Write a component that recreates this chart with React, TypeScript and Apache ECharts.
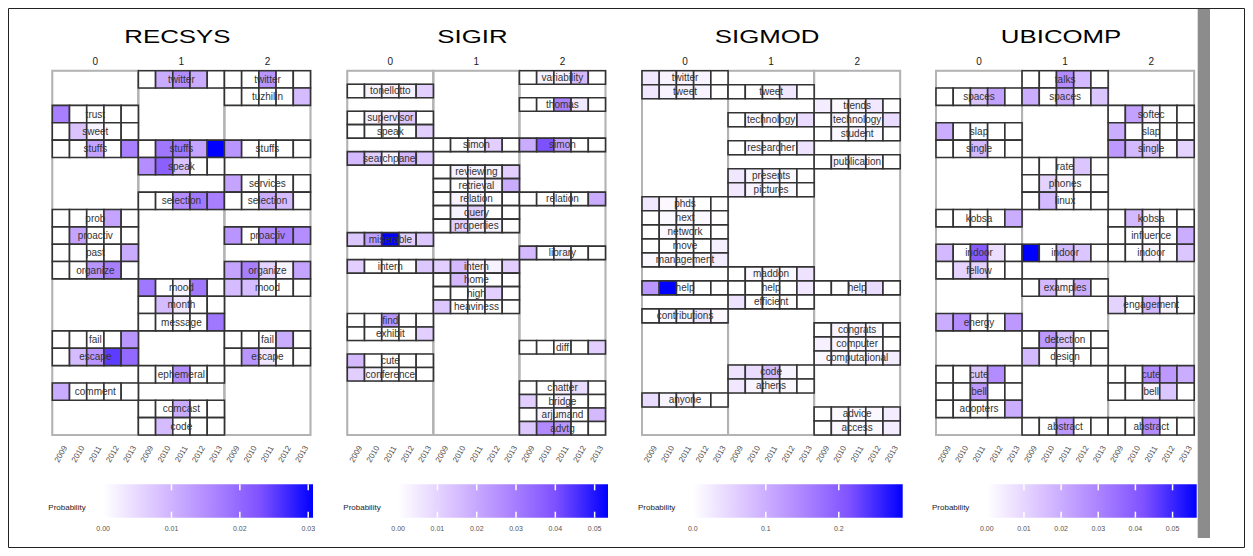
import React, { useEffect, useRef } from "react";
import * as echarts from "echarts";

const years = ["2009", "2010", "2011", "2012", "2013"];
const topics = ["0", "1", "2"];
const conferences = ["RECSYS", "SIGIR", "SIGMOD", "UBICOMP"];
const colorStops = ["#ffffff", "#dcc5ff", "#b28bff", "#7e51ff", "#0000ff"];

// ---------- RECSYS ----------
const recsysRows = ["twitter", "tuzhilin", "trust", "sweet", "stuffs", "speak", "services", "selection", "prob", "proactiv", "past", "organize", "mood", "month", "message", "fail", "escape", "ephemeral", "comment", "comcast", "code"];
const recsysT0: [string, number, number, number, number, number][] = [
  ["trust", 0.017, 0, 0, 0, 0],
  ["sweet", 0, 0.008, 0.0015, 0, 0],
  ["stuffs", 0, 0, 0.012, 0, 0.017],
  ["prob", 0, 0, 0, 0.012, 0],
  ["proactiv", 0, 0.012, 0, 0, 0],
  ["past", 0, 0, 0, 0, 0.011],
  ["organize", 0, 0, 0.014, 0.017, 0],
  ["fail", 0, 0, 0, 0, 0.014],
  ["escape", 0, 0.009, 0.014, 0.025, 0.02],
  ["comment", 0.011, 0, 0, 0, 0],
];
const recsysT1: [string, number, number, number, number, number][] = [
  ["twitter", 0, 0.011, 0.015, 0.011, 0],
  ["stuffs", 0, 0.018, 0.018, 0.012, 0.0307],
  ["speak", 0.015, 0.021, 0.008, 0, 0],
  ["selection", 0, 0, 0.015, 0.018, 0.017],
  ["mood", 0.018, 0, 0.0015, 0.018, 0],
  ["month", 0, 0.009, 0.003, 0, 0],
  ["message", 0, 0, 0, 0, 0.018],
  ["ephemeral", 0, 0, 0.015, 0, 0],
  ["comcast", 0, 0, 0.011, 0, 0],
  ["code", 0, 0.009, 0, 0, 0],
];
const recsysT2: [string, number, number, number, number, number][] = [
  ["twitter", 0, 0, 0.014, 0, 0],
  ["tuzhilin", 0, 0, 0, 0, 0.009],
  ["stuffs", 0.014, 0, 0, 0, 0],
  ["services", 0.012, 0, 0, 0, 0],
  ["selection", 0, 0, 0.011, 0.009, 0],
  ["proactiv", 0.014, 0, 0.015, 0.017, 0.015],
  ["organize", 0.012, 0.017, 0.006, 0.0015, 0.012],
  ["mood", 0.009, 0.009, 0, 0, 0],
  ["fail", 0, 0, 0, 0.011, 0],
  ["escape", 0, 0.014, 0.003, 0, 0],
];
const recsysMax = 0.0307;
const recsysTicks = [0, 0.01, 0.02, 0.03];

// ---------- SIGIR ----------
const sigirRows = ["variability", "tonellotto", "thomas", "supervisor", "speak", "simon", "searchpanel", "reviewing", "retrieval", "relation", "query", "properties", "miserable", "library", "intern", "home", "high", "heaviness", "find", "exhibit", "diff", "cute", "conference", "chatter", "bridge", "arjumand", "advtg"];
const sigirT0: [string, number, number, number, number, number][] = [
  ["tonellotto", 0, 0.003, 0.003, 0.003, 0.011],
  ["supervisor", 0, 0.003, 0.005, 0.013, 0],
  ["speak", 0, 0, 0, 0, 0.011],
  ["searchpanel", 0.016, 0.011, 0.003, 0.016, 0.013],
  ["miserable", 0.013, 0.022, 0.053, 0.011, 0.013],
  ["intern", 0.011, 0, 0, 0, 0.013],
  ["find", 0, 0, 0.024, 0, 0],
  ["exhibit", 0, 0, 0, 0, 0.011],
  ["cute", 0.016, 0, 0, 0, 0],
  ["conference", 0.011, 0.003, 0, 0, 0],
];
const sigirT1: [string, number, number, number, number, number][] = [
  ["simon", 0, 0, 0.003, 0.011, 0],
  ["reviewing", 0, 0.003, 0.003, 0.003, 0.011],
  ["retrieval", 0, 0, 0.003, 0.003, 0.019],
  ["relation", 0, 0.003, 0.003, 0, 0],
  ["query", 0, 0.003, 0.011, 0, 0],
  ["properties", 0, 0.011, 0.003, 0.003, 0],
  ["intern", 0.011, 0.016, 0.003, 0.003, 0.011],
  ["home", 0, 0.016, 0, 0, 0],
  ["high", 0, 0, 0, 0.011, 0],
  ["heaviness", 0.013, 0, 0, 0, 0],
];
const sigirT2: [string, number, number, number, number, number][] = [
  ["variability", 0, 0.003, 0.003, 0.016, 0],
  ["thomas", 0, 0, 0.029, 0.005, 0],
  ["simon", 0.019, 0.04, 0.022, 0, 0],
  ["relation", 0, 0, 0, 0, 0.019],
  ["library", 0.016, 0, 0.003, 0, 0],
  ["diff", 0, 0, 0, 0, 0.011],
  ["chatter", 0, 0, 0.003, 0.008, 0],
  ["bridge", 0.011, 0, 0.003, 0, 0],
  ["arjumand", 0, 0.003, 0.003, 0, 0.016],
  ["advtg", 0.013, 0.027, 0.024, 0, 0],
];
const sigirMax = 0.0534;
const sigirTicks = [0, 0.01, 0.02, 0.03, 0.04, 0.05];

// ---------- SIGMOD ----------
const sigmodRows = ["twitter", "tweet", "trends", "technology", "student", "researcher", "publication", "presents", "pictures", "phds", "next", "network", "move", "management", "maddon", "help", "efficient", "contributions", "congrats", "computer", "computational", "code", "athens", "anyone", "advice", "access"];
const sigmodT0: [string, number, number, number, number, number][] = [
  ["twitter", 0.029, 0.014, 0.014, 0.014, 0],
  ["tweet", 0.029, 0.014, 0.014, 0.014, 0],
  ["phds", 0.029, 0.009, 0.009, 0, 0],
  ["next", 0, 0.009, 0.009, 0.009, 0],
  ["network", 0, 0.009, 0.009, 0, 0],
  ["move", 0, 0, 0, 0, 0.02],
  ["management", 0.009, 0.009, 0.009, 0.009, 0.023],
  ["help", 0.13, 0.287, 0, 0, 0],
  ["contributions", 0, 0.009, 0.009, 0.029, 0.009],
  ["anyone", 0.043, 0.014, 0.014, 0, 0],
];
const sigmodT1: [string, number, number, number, number, number][] = [
  ["tweet", 0, 0, 0.009, 0.029, 0],
  ["technology", 0, 0.009, 0.009, 0.009, 0.043],
  ["researcher", 0, 0.009, 0.009, 0.009, 0.035],
  ["presents", 0.029, 0.014, 0.014, 0.009, 0],
  ["pictures", 0.029, 0.014, 0.009, 0.009, 0],
  ["maddon", 0, 0.009, 0.014, 0.009, 0.035],
  ["help", 0, 0, 0, 0, 0.029],
  ["efficient", 0.035, 0, 0, 0, 0],
  ["code", 0.035, 0.043, 0.086, 0.014, 0],
  ["athens", 0.029, 0.014, 0.014, 0.009, 0],
];
const sigmodT2: [string, number, number, number, number, number][] = [
  ["trends", 0.023, 0.009, 0.014, 0.029, 0],
  ["technology", 0, 0.014, 0.009, 0.009, 0.043],
  ["student", 0, 0.009, 0.014, 0.009, 0],
  ["publication", 0, 0.009, 0.014, 0.009, 0],
  ["help", 0, 0, 0.014, 0.043, 0],
  ["congrats", 0, 0.014, 0.014, 0.009, 0],
  ["computer", 0.017, 0.014, 0.009, 0.009, 0],
  ["computational", 0.009, 0.009, 0.009, 0.014, 0.023],
  ["advice", 0, 0.009, 0.009, 0.009, 0.023],
  ["access", 0, 0.009, 0.009, 0.009, 0.023],
];
const sigmodMax = 0.2876;
const sigmodTicks = [0, 0.1, 0.2];

// ---------- UBICOMP ----------
const ubicompRows = ["talks", "spaces", "softec", "slap", "single", "rate", "phones", "linux", "kobsa", "influence", "indoor", "fellow", "examples", "engagement", "energy", "detection", "design", "cute", "bell", "adopters", "abstract"];
const ubicompT0: [string, number, number, number, number, number][] = [
  ["spaces", 0, 0, 0.014, 0.023, 0],
  ["slap", 0.02, 0, 0, 0, 0],
  ["single", 0, 0, 0.017, 0, 0],
  ["kobsa", 0, 0, 0, 0, 0.02],
  ["indoor", 0.017, 0, 0.04, 0.008, 0],
  ["fellow", 0, 0.011, 0.011, 0, 0],
  ["energy", 0.02, 0.028, 0, 0, 0.025],
  ["cute", 0, 0, 0.014, 0.028, 0],
  ["bell", 0, 0, 0.025, 0, 0],
  ["adopters", 0, 0, 0, 0, 0.02],
];
const ubicompT1: [string, number, number, number, number, number][] = [
  ["talks", 0, 0, 0.028, 0.017, 0],
  ["spaces", 0.02, 0, 0.02, 0, 0.014],
  ["rate", 0, 0, 0, 0.014, 0],
  ["phones", 0, 0.011, 0.003, 0, 0],
  ["linux", 0, 0.017, 0, 0, 0],
  ["indoor", 0.0565, 0, 0.017, 0.014, 0],
  ["examples", 0, 0.017, 0.003, 0.02, 0],
  ["detection", 0, 0.025, 0.014, 0, 0],
  ["design", 0.017, 0, 0, 0, 0],
  ["abstract", 0, 0, 0.025, 0, 0],
];
const ubicompT2: [string, number, number, number, number, number][] = [
  ["softec", 0, 0.023, 0.003, 0, 0],
  ["slap", 0.02, 0, 0, 0, 0],
  ["single", 0.025, 0.017, 0.014, 0, 0.011],
  ["kobsa", 0, 0.017, 0.003, 0, 0],
  ["influence", 0, 0, 0, 0, 0.02],
  ["indoor", 0, 0, 0.003, 0, 0.014],
  ["engagement", 0.011, 0, 0.017, 0.003, 0],
  ["cute", 0, 0, 0.028, 0.025, 0.02],
  ["bell", 0, 0, 0.003, 0.014, 0],
  ["abstract", 0, 0, 0.028, 0, 0],
];
const ubicompMax = 0.0565;
const ubicompTicks = [0, 0.01, 0.02, 0.03, 0.04, 0.05];

const panels = [
  { name: conferences[0], rows: recsysRows, topicData: [recsysT0, recsysT1, recsysT2], max: recsysMax, ticks: recsysTicks, dec: 2 },
  { name: conferences[1], rows: sigirRows, topicData: [sigirT0, sigirT1, sigirT2], max: sigirMax, ticks: sigirTicks, dec: 2 },
  { name: conferences[2], rows: sigmodRows, topicData: [sigmodT0, sigmodT1, sigmodT2], max: sigmodMax, ticks: sigmodTicks, dec: 1 },
  { name: conferences[3], rows: ubicompRows, topicData: [ubicompT0, ubicompT1, ubicompT2], max: ubicompMax, ticks: ubicompTicks, dec: 2 },
];

const FONT = "'Liberation Sans', Arial, Helvetica, sans-serif";
const PANEL_LEFTS = [52.3, 347.3, 642, 936];
const PANEL_W = 258.2;
const PANEL_TOP = 70.7;
const PANEL_H = 364.3;
const LEG_TOP = 484.3;
const LEG_H = 33.4;

function buildOption() {
  const grid: any[] = [];
  const xAxis: any[] = [];
  const yAxis: any[] = [];
  const series: any[] = [];
  const visualMap: any[] = [];
  const graphic: any[] = [];

  graphic.push({
    type: "rect", silent: true, z: 0,
    shape: { x: 8.5, y: 8.5, width: 1236, height: 539 },
    style: { fill: "none", stroke: "#222", lineWidth: 1 },
  });
  graphic.push({
    type: "rect", silent: true, z: 0,
    shape: { x: 1197.7, y: 9, width: 12.3, height: 529 },
    style: { fill: "#8c8c8c" },
  });

  panels.forEach((p, i) => {
    const left = PANEL_LEFTS[i];
    const nRows = p.rows.length;
    const gi = grid.length;
    grid.push({ left, top: PANEL_TOP, width: PANEL_W, height: PANEL_H, containLabel: false });
    const xb = xAxis.length;
    xAxis.push({
      type: "category", gridIndex: gi, position: "bottom",
      data: topics.flatMap(() => years),
      axisLine: { show: false }, axisTick: { show: false }, splitLine: { show: false },
      axisLabel: { interval: 0, rotate: 60, fontSize: 8, color: "#4d4d4d", margin: 19, align: "center", verticalAlign: "middle", fontFamily: FONT },
    });
    xAxis.push({
      type: "category", gridIndex: gi, position: "top", data: topics,
      axisLine: { show: false }, axisTick: { show: false }, splitLine: { show: false },
      axisLabel: { interval: 0, fontSize: 10, color: "#1a1a1a", margin: 4, fontFamily: FONT },
    });
    const yi = yAxis.length;
    yAxis.push({ type: "value", gridIndex: gi, min: 0, max: nRows, inverse: true, show: false });

    // frames / empty blocks
    const frameData: number[][] = [];
    p.topicData.forEach((list, t) => {
      const used = new Set(list.map((e) => p.rows.indexOf(e[0])));
      let r = 0;
      while (r < nRows) {
        if (used.has(r)) { r++; continue; }
        const s = r;
        while (r < nRows && !used.has(r)) r++;
        frameData.push([t * 5, s, r, 0]);
      }
    });
    p.topicData.forEach((_, t) => frameData.push([t * 5, 0, nRows, 1]));
    series.push({
      type: "custom", xAxisIndex: xb, yAxisIndex: yi, silent: true, z: 1,
      data: frameData,
      renderItem: (params: any, api: any) => {
        const x0 = api.value(0), s = api.value(1), e = api.value(2), k = api.value(3);
        const bw = api.size([1, 0])[0];
        const a = api.coord([x0, s]);
        const b = api.coord([x0 + 4, e]);
        const l = a[0] - bw / 2, r = b[0] + bw / 2;
        return {
          type: "rect",
          shape: { x: l, y: a[1], width: r - l, height: b[1] - a[1] },
          style: { fill: k ? "none" : "#ffffff", stroke: "#b3b3b3", lineWidth: k ? 2 : 1.3 },
        };
      },
    });

    // tiles
    const tileData: number[][] = [];
    const labelData: number[][] = [];
    const labelNames: string[] = [];
    p.topicData.forEach((list, t) => {
      list.forEach((e) => {
        const r = p.rows.indexOf(e[0]);
        for (let y = 0; y < 5; y++) tileData.push([t * 5 + y, r, e[y + 1] as number]);
        labelData.push([t * 5 + 2, r]);
        labelNames.push(e[0]);
      });
    });
    const tileIdx = series.length;
    series.push({
      type: "custom", xAxisIndex: xb, yAxisIndex: yi, silent: true, z: 2,
      data: tileData,
      renderItem: (params: any, api: any) => {
        const xv = api.value(0), yv = api.value(1);
        const bw = api.size([1, 0])[0];
        const a = api.coord([xv, yv]);
        const b = api.coord([xv, yv + 1]);
        return {
          type: "rect",
          shape: { x: a[0] - bw / 2, y: a[1], width: bw, height: b[1] - a[1] },
          style: { fill: api.visual("color"), stroke: "#333333", lineWidth: 1.6 },
        };
      },
    });
    visualMap.push({
      type: "continuous", show: false, seriesIndex: tileIdx, dimension: 2,
      min: 0, max: p.max, inRange: { color: colorStops },
    });
    series.push({
      type: "custom", xAxisIndex: xb, yAxisIndex: yi, silent: true, z: 3,
      data: labelData,
      renderItem: (params: any, api: any) => {
        const c = api.coord([api.value(0), api.value(1) + 0.5]);
        const txt = labelNames[params.dataIndex];
        return {
          type: "text",
          x: c[0], y: c[1],
          style: {
            text: txt, fontSize: 10, fontFamily: FONT, fill: "#333",
            align: "center", verticalAlign: "middle", textAlign: "center", textVerticalAlign: "middle",
          },
        };
      },
    });

    // title
    graphic.push({
      type: "text", silent: true, z: 5,
      x: left + PANEL_W / 2 - 4, y: 36, scaleX: 1.36,
      style: { text: p.name, fontSize: 19, fontFamily: FONT, fill: "#000", align: "center", verticalAlign: "middle", textAlign: "center", textVerticalAlign: "middle" },
    });
    graphic.push({
      type: "text", silent: true, z: 5,
      x: left - 4, y: 507.7,
      style: { text: "Probability", fontSize: 8, fontFamily: FONT, fill: "#222", align: "left", verticalAlign: "middle", textAlign: "left", textVerticalAlign: "middle" },
    });

    // legend bar
    const barX0 = left + 50.8;
    const barX1 = left + PANEL_W + 2.5;
    const lg = grid.length;
    grid.push({ left: barX0, top: LEG_TOP, width: barX1 - barX0, height: LEG_H, containLabel: false });
    const step = p.ticks[1] - p.ticks[0];
    const fmt = (v: number) => {
      const q = v / step;
      if (Math.abs(q - Math.round(q)) > 1e-6) return "";
      return v.toFixed(p.dec);
    };
    const lx = xAxis.length;
    xAxis.push({
      type: "value", gridIndex: lg, position: "bottom", min: 0, max: p.max, interval: step,
      axisLine: { show: false }, splitLine: { show: false }, axisTick: { show: false },
      axisLabel: { fontSize: 7, color: "#555", margin: 7, fontFamily: FONT, formatter: fmt, customValues: p.ticks },
    });
    const ly = yAxis.length;
    yAxis.push({ type: "value", gridIndex: lg, min: 0, max: 1, show: false });
    const pmax = p.max;
    series.push({
      type: "custom", xAxisIndex: lx, yAxisIndex: ly, silent: true, z: 2,
      data: [[0, 0]],
      renderItem: (params: any, api: any) => {
        const a = api.coord([0, 0]);
        const b = api.coord([pmax, 1]);
        return {
          type: "rect",
          shape: { x: a[0], y: b[1], width: b[0] - a[0], height: a[1] - b[1] },
          style: {
            fill: new echarts.graphic.LinearGradient(0, 0, 1, 0,
              colorStops.map((c, k) => ({ offset: k / (colorStops.length - 1), color: c }))),
          },
        };
      },
    });
    // white tick marks on the colour bar
    series.push({
      type: "custom", xAxisIndex: lx, yAxisIndex: ly, silent: true, z: 3,
      data: p.ticks.filter((v) => v > 0).map((v) => [v, 0]),
      renderItem: (params: any, api: any) => {
        const a = api.coord([api.value(0), 0]);
        const b = api.coord([api.value(0), 1]);
        const st = { stroke: "#ffffff", lineWidth: 1.5 };
        return {
          type: "group",
          children: [
            { type: "line", shape: { x1: b[0], y1: b[1], x2: b[0], y2: b[1] + 6 }, style: st },
            { type: "line", shape: { x1: a[0], y1: a[1], x2: a[0], y2: a[1] - 6 }, style: st },
          ],
        };
      },
    });
  });

  return {
    animation: false,
    backgroundColor: "#ffffff",
    textStyle: { fontFamily: FONT },
    grid, xAxis, yAxis, series, visualMap, graphic,
  };
}

export default function App() {
  const ref = useRef<HTMLDivElement>(null);
  useEffect(() => {
    document.body.style.margin = "0";
    if (!ref.current) return;
    const chart = echarts.init(ref.current, undefined, { renderer: "svg" });
    chart.setOption(buildOption() as any);
    return () => chart.dispose();
  }, []);
  return <div ref={ref} style={{ width: 1253, height: 556 }} />;
}
